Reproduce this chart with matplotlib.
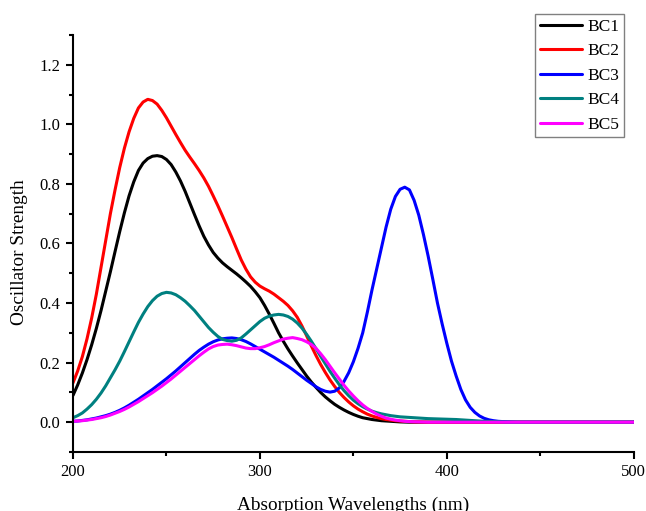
import matplotlib
matplotlib.use("Agg")
import matplotlib.pyplot as plt
from matplotlib.ticker import MultipleLocator

plt.rcParams['font.family'] = ['Liberation Serif', 'DejaVu Serif']

# wavelength grid: 200 to 440 nm every 2.5 nm, then 500 nm
wavelength = [200 + 2.5 * i for i in range(97)] + [500]

bc1 = [0.09, 0.125, 0.165, 0.21, 0.26, 0.315, 0.375, 0.44, 0.505, 0.573,
       0.64, 0.703, 0.76, 0.807, 0.845, 0.87, 0.885, 0.893, 0.895, 0.892,
       0.882, 0.865, 0.84, 0.81, 0.775, 0.736, 0.697, 0.659, 0.624, 0.595,
       0.57, 0.551, 0.535, 0.522, 0.51, 0.498, 0.485, 0.471, 0.456, 0.438,
       0.418, 0.392, 0.363, 0.332, 0.30, 0.272, 0.246, 0.222, 0.199, 0.177,
       0.155, 0.135, 0.117, 0.10, 0.085, 0.072, 0.06, 0.05, 0.041, 0.033,
       0.026, 0.02, 0.015, 0.012, 0.009, 0.007, 0.005, 0.004, 0.003, 0.002,
       0.001, 0.0005, 0, 0, 0, 0, 0, 0, 0, 0,
       0, 0, 0, 0, 0, 0, 0, 0, 0, 0,
       0, 0, 0, 0, 0, 0, 0,
       0]

bc2 = [0.132, 0.172, 0.22, 0.28, 0.35, 0.43, 0.52, 0.61, 0.70, 0.78,
       0.855, 0.92, 0.975, 1.02, 1.055, 1.075, 1.084, 1.08, 1.068, 1.047,
       1.022, 0.994, 0.966, 0.939, 0.913, 0.89, 0.868, 0.845, 0.82, 0.792,
       0.76, 0.727, 0.692, 0.656, 0.62, 0.582, 0.545, 0.514, 0.488, 0.47,
       0.457, 0.448, 0.44, 0.43, 0.418, 0.406, 0.392, 0.374, 0.352, 0.323,
       0.29, 0.256, 0.224, 0.194, 0.167, 0.142, 0.12, 0.10, 0.083, 0.068,
       0.055, 0.044, 0.035, 0.027, 0.021, 0.016, 0.012, 0.009, 0.007, 0.005,
       0.004, 0.003, 0.002, 0.001, 0.001, 0.0005, 0, 0, 0, 0,
       0, 0, 0, 0, 0, 0, 0, 0, 0, 0,
       0, 0, 0, 0, 0, 0, 0,
       0]

bc3 = [0.003, 0.004, 0.006, 0.008, 0.011, 0.014, 0.018, 0.022, 0.027, 0.033,
       0.04, 0.048, 0.057, 0.067, 0.077, 0.088, 0.099, 0.11, 0.122, 0.134,
       0.146, 0.159, 0.172, 0.186, 0.20, 0.214, 0.228, 0.241, 0.252, 0.262,
       0.27, 0.276, 0.28, 0.282, 0.283, 0.281, 0.277, 0.271, 0.263, 0.254,
       0.245, 0.236, 0.227, 0.218, 0.208, 0.198, 0.188, 0.177, 0.165, 0.153,
       0.141, 0.13, 0.119, 0.11, 0.104, 0.101, 0.104, 0.115, 0.137, 0.166,
       0.203, 0.248, 0.30, 0.37, 0.445, 0.515, 0.585, 0.655, 0.715, 0.758,
       0.782, 0.789, 0.78, 0.745, 0.695, 0.63, 0.558, 0.48, 0.40, 0.33,
       0.265, 0.205, 0.155, 0.11, 0.075, 0.05, 0.033, 0.021, 0.013, 0.008,
       0.005, 0.003, 0.002, 0.001, 0.0005, 0, 0,
       0]

bc4 = [0.015, 0.022, 0.031, 0.044, 0.059, 0.077, 0.098, 0.122, 0.149, 0.176,
       0.205, 0.237, 0.27, 0.303, 0.335, 0.363, 0.388, 0.408, 0.423, 0.432,
       0.436, 0.434, 0.428, 0.418, 0.406, 0.391, 0.375, 0.356, 0.337, 0.318,
       0.302, 0.288, 0.278, 0.274, 0.272, 0.275, 0.283, 0.296, 0.31, 0.324,
       0.338, 0.349, 0.356, 0.36, 0.362, 0.36, 0.355, 0.346, 0.333, 0.316,
       0.295, 0.272, 0.247, 0.221, 0.196, 0.171, 0.148, 0.126, 0.106, 0.089,
       0.074, 0.062, 0.052, 0.044, 0.037, 0.032, 0.028, 0.025, 0.022, 0.02,
       0.018, 0.017, 0.016, 0.015, 0.014, 0.013, 0.012, 0.0115, 0.011, 0.0105,
       0.010, 0.0095, 0.009, 0.008, 0.007, 0.006, 0.005, 0.004, 0.003, 0.0025,
       0.002, 0.0015, 0.001, 0.0005, 0, 0, 0,
       0]

bc5 = [0.003, 0.004, 0.005, 0.007, 0.009, 0.012, 0.015, 0.019, 0.024, 0.03,
       0.036, 0.043, 0.051, 0.06, 0.069, 0.079, 0.089, 0.099, 0.11, 0.121,
       0.133, 0.145, 0.158, 0.171, 0.184, 0.197, 0.21, 0.223, 0.235, 0.246,
       0.254, 0.259, 0.261, 0.262, 0.26, 0.257, 0.253, 0.249, 0.247, 0.247,
       0.25, 0.254, 0.26, 0.267, 0.273, 0.279, 0.282, 0.284, 0.281, 0.277,
       0.27, 0.261, 0.248, 0.23, 0.21, 0.188, 0.166, 0.145, 0.124, 0.105,
       0.088, 0.072, 0.058, 0.046, 0.036, 0.027, 0.02, 0.014, 0.01, 0.007,
       0.005, 0.003, 0.002, 0.0015, 0.001, 0.0005, 0, 0, 0, 0,
       0, 0, 0, 0, 0, 0, 0, 0, 0, 0,
       0, 0, 0, 0, 0, 0, 0,
       0]

labels = ["BC1", "BC2", "BC3", "BC4", "BC5"]
colors = ["#000000", "#FF0000", "#0000FF", "#008080", "#FF00FF"]
series = [bc1, bc2, bc3, bc4, bc5]

fig = plt.figure(figsize=(6.46, 5.11), dpi=100)
ax = fig.add_axes([0.113, 0.1155, 0.868, 0.816])

for s, c, l in zip(series, colors, labels):
    ax.plot(wavelength, s, color=c, lw=2.2, label=l,
            solid_joinstyle='round', solid_capstyle='round')

ax.set_xlim(200, 500)
ax.set_ylim(-0.1, 1.3)
ax.xaxis.set_major_locator(MultipleLocator(100))
ax.xaxis.set_minor_locator(MultipleLocator(50))
ax.yaxis.set_minor_locator(MultipleLocator(0.1))
ax.set_yticks([0.0, 0.2, 0.4, 0.6, 0.8, 1.0, 1.2])
ax.set_yticklabels(["0.0", "0.2", "0.4", "0.6", "0.8", "1.0", "1.2"])

for sp in ["top", "right"]:
    ax.spines[sp].set_visible(False)
for sp in ["left", "bottom"]:
    ax.spines[sp].set_linewidth(1.5)

ax.tick_params(axis='both', which='major', direction='out', length=5, width=1.5,
               labelsize=12, pad=4)
ax.tick_params(axis='both', which='minor', direction='out', length=3, width=1.5)

ax.set_xlabel("Absorption Wavelengths (nm)", fontsize=13.9, labelpad=12)
ax.set_ylabel("Oscillator Strength", fontsize=13.9)
ax.yaxis.set_label_coords(-0.080, 0.48)

leg = fig.legend(loc='upper right', bbox_to_anchor=(0.966, 0.9726), fontsize=12.5,
                 frameon=True, fancybox=False, framealpha=1, edgecolor='#808080',
                 handlelength=2.4, handletextpad=0.3, labelspacing=0.475,
                 borderpad=0.28, borderaxespad=0)
leg.get_frame().set_linewidth(1.0)

fig.savefig("out.png", dpi=100)
